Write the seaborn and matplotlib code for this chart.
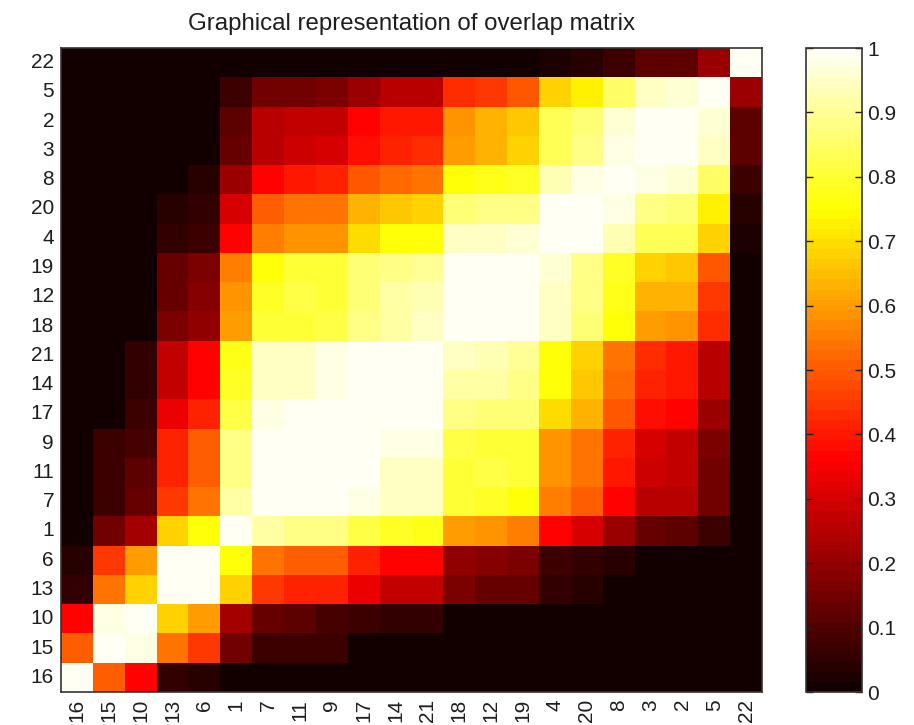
import numpy as np
import pandas as pd
import matplotlib
matplotlib.use("Agg")
import matplotlib.pyplot as plt
from matplotlib.colors import ListedColormap
import seaborn as sns

# Ordering of the items along both axes (bottom-to-top, left-to-right)
labels = [16, 15, 10, 13, 6, 1, 7, 11, 9, 17, 14, 21, 18, 12, 19, 4, 20, 8, 3, 2, 5, 22]

# Overlap of each item with every other item, one list per row (same order as labels)
row_16 = [1.00, 0.50, 0.36, 0.06, 0.04, 0.015, 0.015, 0.015, 0.01, 0.01, 0.01, 0.01, 0.01, 0.01, 0.01, 0.01, 0.01, 0.01, 0.01, 0.01, 0.01, 0.01]
row_15 = [0.50, 1.00, 0.97, 0.54, 0.45, 0.15, 0.075, 0.075, 0.075, 0.015, 0.015, 0.015, 0.01, 0.01, 0.01, 0.015, 0.01, 0.01, 0.01, 0.01, 0.01, 0.01]
row_10 = [0.36, 0.97, 1.00, 0.68, 0.60, 0.22, 0.13, 0.11, 0.09, 0.075, 0.05, 0.05, 0.015, 0.015, 0.015, 0.015, 0.015, 0.01, 0.01, 0.01, 0.01, 0.01]
row_13 = [0.06, 0.54, 0.68, 1.00, 1.00, 0.68, 0.45, 0.41, 0.41, 0.33, 0.28, 0.28, 0.17, 0.14, 0.14, 0.06, 0.04, 0.015, 0.015, 0.015, 0.01, 0.01]
row_6 = [0.04, 0.45, 0.60, 1.00, 1.00, 0.76, 0.54, 0.50, 0.50, 0.41, 0.37, 0.37, 0.20, 0.18, 0.16, 0.075, 0.06, 0.045, 0.015, 0.015, 0.015, 0.01]
row_1 = [0.015, 0.15, 0.22, 0.68, 0.76, 1.00, 0.91, 0.89, 0.89, 0.82, 0.79, 0.78, 0.60, 0.58, 0.55, 0.37, 0.30, 0.21, 0.13, 0.11, 0.07, 0.01]
row_7 = [0.015, 0.075, 0.13, 0.45, 0.54, 0.91, 1.00, 1.00, 1.00, 0.97, 0.94, 0.95, 0.80, 0.79, 0.76, 0.55, 0.51, 0.37, 0.26, 0.25, 0.145, 0.01]
row_11 = [0.015, 0.075, 0.11, 0.41, 0.50, 0.89, 1.00, 1.00, 1.00, 1.00, 0.95, 0.95, 0.81, 0.82, 0.80, 0.59, 0.54, 0.40, 0.29, 0.275, 0.15, 0.01]
row_9 = [0.01, 0.075, 0.09, 0.41, 0.50, 0.89, 1.00, 1.00, 1.00, 1.00, 0.97, 0.97, 0.815, 0.81, 0.80, 0.58, 0.54, 0.41, 0.30, 0.28, 0.16, 0.01]
row_17 = [0.01, 0.015, 0.075, 0.33, 0.41, 0.82, 0.97, 1.00, 1.00, 1.00, 1.00, 1.00, 0.885, 0.87, 0.86, 0.70, 0.64, 0.495, 0.38, 0.37, 0.21, 0.01]
row_14 = [0.01, 0.015, 0.05, 0.28, 0.37, 0.79, 0.94, 0.95, 0.97, 1.00, 1.00, 1.00, 0.92, 0.91, 0.885, 0.75, 0.67, 0.525, 0.415, 0.40, 0.26, 0.01]
row_21 = [0.01, 0.015, 0.05, 0.28, 0.37, 0.78, 0.95, 0.95, 0.97, 1.00, 1.00, 1.00, 0.94, 0.93, 0.90, 0.76, 0.68, 0.54, 0.425, 0.40, 0.26, 0.01]
row_18 = [0.01, 0.01, 0.015, 0.17, 0.20, 0.60, 0.80, 0.81, 0.815, 0.885, 0.92, 0.94, 1.00, 1.00, 1.00, 0.94, 0.86, 0.76, 0.60, 0.58, 0.43, 0.01]
row_12 = [0.01, 0.01, 0.015, 0.14, 0.18, 0.58, 0.79, 0.82, 0.81, 0.87, 0.91, 0.93, 1.00, 1.00, 1.00, 0.945, 0.875, 0.78, 0.63, 0.63, 0.45, 0.01]
row_19 = [0.01, 0.01, 0.015, 0.14, 0.16, 0.55, 0.76, 0.80, 0.80, 0.86, 0.885, 0.90, 1.00, 1.00, 1.00, 0.96, 0.89, 0.79, 0.68, 0.66, 0.49, 0.01]
row_4 = [0.01, 0.015, 0.015, 0.06, 0.075, 0.37, 0.55, 0.59, 0.58, 0.70, 0.75, 0.76, 0.94, 0.945, 0.96, 1.00, 1.00, 0.93, 0.83, 0.83, 0.68, 0.025]
row_20 = [0.01, 0.01, 0.015, 0.04, 0.06, 0.30, 0.51, 0.54, 0.54, 0.64, 0.67, 0.68, 0.86, 0.875, 0.89, 1.00, 1.00, 0.97, 0.875, 0.86, 0.725, 0.04]
row_8 = [0.01, 0.01, 0.01, 0.015, 0.045, 0.21, 0.37, 0.40, 0.41, 0.495, 0.525, 0.54, 0.76, 0.78, 0.79, 0.93, 0.97, 1.00, 0.975, 0.96, 0.85, 0.07]
row_3 = [0.01, 0.01, 0.01, 0.015, 0.015, 0.13, 0.26, 0.29, 0.30, 0.38, 0.415, 0.425, 0.60, 0.63, 0.68, 0.83, 0.875, 0.975, 1.00, 1.00, 0.94, 0.12]
row_2 = [0.01, 0.01, 0.01, 0.015, 0.015, 0.11, 0.25, 0.275, 0.28, 0.37, 0.40, 0.40, 0.58, 0.63, 0.66, 0.83, 0.86, 0.96, 1.00, 1.00, 0.96, 0.12]
row_5 = [0.01, 0.01, 0.01, 0.01, 0.015, 0.07, 0.145, 0.15, 0.16, 0.21, 0.26, 0.26, 0.43, 0.45, 0.49, 0.68, 0.725, 0.85, 0.94, 0.96, 1.00, 0.21]
row_22 = [0.01, 0.01, 0.01, 0.01, 0.01, 0.01, 0.01, 0.01, 0.01, 0.01, 0.01, 0.01, 0.01, 0.01, 0.01, 0.025, 0.04, 0.07, 0.12, 0.12, 0.21, 1.00]

rows = [row_16, row_15, row_10, row_13, row_6, row_1, row_7, row_11, row_9, row_17, row_14,
        row_21, row_18, row_12, row_19, row_4, row_20, row_8, row_3, row_2, row_5, row_22]

cbar_ticks = [0, 0.1, 0.2, 0.3, 0.4, 0.5, 0.6, 0.7, 0.8, 0.9, 1]
cbar_ticklabels = ["0", "0.1", "0.2", "0.3", "0.4", "0.5", "0.6", "0.7", "0.8", "0.9", "1"]

overlap = pd.DataFrame(rows, index=labels, columns=labels)

# 64-step "hot" palette
hot64 = ListedColormap(sns.color_palette("hot", 64))

plt.rcParams["font.family"] = ["Liberation Sans", "DejaVu Sans"]
text_color = "#1e1e1e"

fig = plt.figure(figsize=(9.14, 7.25), dpi=100)
W, H = 914, 725
ax = fig.add_axes([61 / W, 1 - 692 / H, (762 - 61) / W, (692 - 48) / H])
cax = fig.add_axes([806 / W, 1 - 692 / H, (862 - 806) / W, (692 - 48) / H])

sns.heatmap(overlap, cmap=hot64, vmin=0, vmax=1, ax=ax, cbar_ax=cax,
            xticklabels=labels, yticklabels=labels, linewidths=0)
ax.invert_yaxis()

ax.set_title("Graphical representation of overlap matrix", fontsize=17.3,
             color=text_color, pad=13)
ax.set_xlabel("")
ax.set_ylabel("")
ax.tick_params(axis="both", length=0, labelsize=15, colors=text_color, pad=5)
plt.setp(ax.get_xticklabels(), rotation=90)
plt.setp(ax.get_yticklabels(), rotation=0)
for side in ax.spines.values():
    side.set_visible(True)
    side.set_color("#333333")
    side.set_linewidth(1.2)

cbar = ax.collections[0].colorbar
cbar.set_ticks(cbar_ticks)
cbar.set_ticklabels(cbar_ticklabels)
cbar.ax.tick_params(direction="in", left=True, right=True, length=5, width=1,
                    labelsize=15, colors=text_color, pad=4)
cbar.outline.set_visible(True)
cbar.outline.set_edgecolor("#333333")
cbar.outline.set_linewidth(1.2)
for t in cbar.ax.get_yticklabels():
    t.set_color(text_color)

fig.savefig("out.png", dpi=100, facecolor="white")
